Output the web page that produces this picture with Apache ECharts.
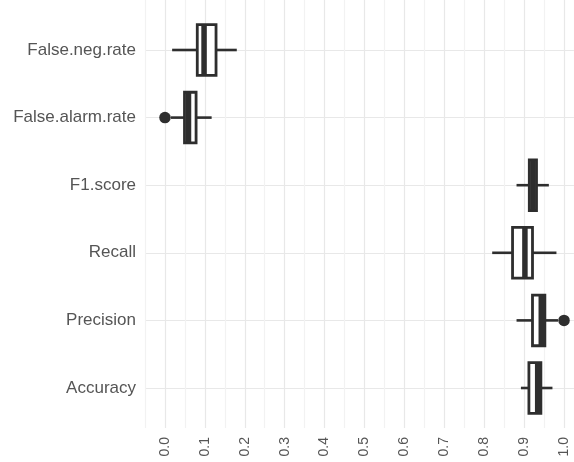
<!DOCTYPE html>
<html>
<head>
<meta charset="utf-8">
<script src="https://cdn.jsdelivr.net/npm/echarts@6/dist/echarts.min.js"></script>
<style>html,body{margin:0;padding:0;background:#fff}#c{width:574px;height:462px}</style>
</head>
<body>
<div id="c"></div>
<script>
var categories = ['False.neg.rate', 'False.alarm.rate', 'F1.score', 'Recall', 'Precision', 'Accuracy'];
var whiskerLow = [0.018, 0.015, 0.881, 0.820, 0.881, 0.892];
var q1 = [0.081, 0.049, 0.913, 0.871, 0.921, 0.912];
var median = [0.098, 0.059, 0.922, 0.902, 0.943, 0.934];
var q3 = [0.128, 0.078, 0.931, 0.921, 0.952, 0.942];
var whiskerHigh = [0.180, 0.117, 0.962, 0.981, 0.985, 0.971];
var outliers = [[0.0, 'False.alarm.rate'], [1.0, 'Precision']];

var boxData = categories.map(function (c, i) {
  return [i, whiskerLow[i], q1[i], median[i], q3[i], whiskerHigh[i]];
});

var ink = '#2e2e2e';
var font = '"Liberation Sans", Arial, sans-serif';

var chart = echarts.init(document.getElementById('c'));
chart.setOption({
  animation: false,
  backgroundColor: '#ffffff',
  grid: [
    {left: 145, right: 0, top: 0, bottom: 34},
    {left: 145, right: 0, top: 16.2, bottom: 40.2}
  ],
  xAxis: [
    {
      gridIndex: 0, type: 'value', min: -0.05, max: 1.025, interval: 0.05,
      axisLine: {show: false}, axisTick: {show: false},
      axisLabel: {
        rotate: 90, margin: 9, fontSize: 14, color: '#555555', fontFamily: font,
        showMinLabel: false, showMaxLabel: false,
        formatter: function (v) {
          var r = Math.round(v * 100);
          if (r % 10 !== 0 || r < 0 || r > 100) return '';
          return (r / 100).toFixed(1);
        }
      },
      splitLine: {show: true, lineStyle: {color: ['#f2f2f2', '#e8e8e8'], width: 1.2}}
    },
    {
      gridIndex: 1, type: 'value', min: -0.05, max: 1.025, show: false
    }
  ],
  yAxis: [
    {gridIndex: 0, type: 'value', show: false},
    {
      gridIndex: 1, type: 'category', data: categories, inverse: true,
      axisLine: {show: false}, axisTick: {show: false},
      axisLabel: {fontSize: 17, color: '#555555', fontFamily: font, margin: 9},
      splitLine: {show: true, alignWithLabel: true, lineStyle: {color: '#e8e8e8', width: 1.2}}
    }
  ],
  series: [
    {
      type: 'custom',
      xAxisIndex: 1, yAxisIndex: 1,
      data: boxData,
      encode: {x: [1, 2, 3, 4, 5], y: 0},
      renderItem: function (params, api) {
        var yi = api.value(0);
        var pLow = api.coord([api.value(1), yi]);
        var pQ1 = api.coord([api.value(2), yi]);
        var pMed = api.coord([api.value(3), yi]);
        var pQ3 = api.coord([api.value(4), yi]);
        var pHigh = api.coord([api.value(5), yi]);
        var band = api.size([0, 1])[1];
        var h = band * 0.75;
        var cy = pMed[1];
        return {
          type: 'group',
          children: [
            {type: 'line', shape: {x1: pLow[0], y1: cy, x2: pQ1[0], y2: cy}, style: {stroke: ink, lineWidth: 2.6}},
            {type: 'line', shape: {x1: pQ3[0], y1: cy, x2: pHigh[0], y2: cy}, style: {stroke: ink, lineWidth: 2.6}},
            {type: 'rect', shape: {x: pQ1[0], y: cy - h / 2, width: pQ3[0] - pQ1[0], height: h}, style: {fill: '#ffffff', stroke: ink, lineWidth: 2.8}},
            {type: 'line', shape: {x1: pMed[0], y1: cy - h / 2, x2: pMed[0], y2: cy + h / 2}, style: {stroke: ink, lineWidth: 5.5}}
          ]
        };
      }
    },
    {
      type: 'scatter',
      xAxisIndex: 1, yAxisIndex: 1,
      data: outliers,
      symbol: 'circle', symbolSize: 11.5,
      itemStyle: {color: ink, opacity: 1},
      z: 3
    }
  ]
});
</script>
</body>
</html>
